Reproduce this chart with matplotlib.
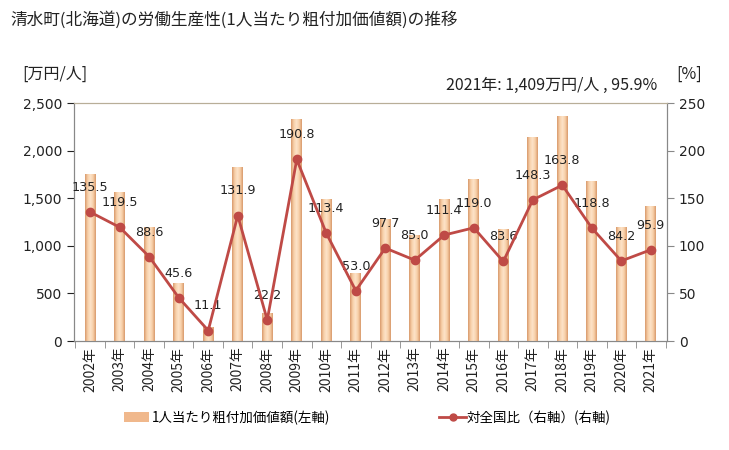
import numpy as np
import matplotlib

matplotlib.use("Agg")
import matplotlib.pyplot as plt
from matplotlib.colors import LinearSegmentedColormap
from matplotlib.patches import Patch
from matplotlib.lines import Line2D

plt.rcParams["font.family"] = ["Noto Sans CJK JP", "DejaVu Sans"]

years = [f"{y}年" for y in range(2002, 2022)]
# 1人当たり粗付加価値額 [万円/人]
value = [1744, 1555, 1187, 609, 147, 1817, 294, 2321, 1491, 714,
         1271, 1113, 1491, 1691, 1166, 2132, 2353, 1670, 1197, 1409]
# 対全国比 [%]
ratio = [135.5, 119.5, 88.6, 45.6, 11.1, 131.9, 22.2, 190.8, 113.4, 53.0,
         97.7, 85.0, 111.4, 119.0, 83.6, 148.3, 163.8, 118.8, 84.2, 95.9]

title = "清水町(北海道)の労働生産性(1人当たり粗付加価値額)の推移"
bar_label = "1人当たり粗付加価値額(左軸)"
line_label = "対全国比（右軸）(右軸)"

NUM = ["DejaVu Sans"]
TXT = "#222222"

fig = plt.figure(figsize=(7.29, 4.5), dpi=100)
ax = fig.add_axes([0.1015, 0.242, 0.8135, 0.529])
ax2 = ax.twinx()

x = np.arange(len(years))
bw = 0.36
bars = ax.bar(x, value, width=bw, color="#f5c39a", zorder=2)

# horizontal gradient on each bar (darker at edges)
cmap = LinearSegmentedColormap.from_list(
    "peach", ["#d99a6c", "#f7cfa8", "#fde3c8", "#f7cfa8", "#d99a6c"])
grad = np.linspace(0, 1, 64).reshape(1, -1)
for b in bars:
    x0, w, h = b.get_x(), b.get_width(), b.get_height()
    ax.imshow(grad, cmap=cmap, aspect="auto", zorder=3,
              extent=(x0, x0 + w, 0, h))

ax.set_xlim(-0.55, len(years) - 0.45)
ax.set_ylim(0, 2500)
ax.set_yticks(range(0, 2501, 500))
ax.set_yticklabels([f"{v:,}" for v in range(0, 2501, 500)], family=NUM)
ax.set_xticks(x)
ax.set_xticklabels(years, rotation=90)
ax.set_xticks(np.arange(-0.5, len(years), 1), minor=True)
ax.tick_params(axis="x", which="major", length=0, pad=4)
ax.tick_params(axis="x", which="minor", length=5, color="#888888")
ax.tick_params(axis="y", length=5, color="#888888")
ax.tick_params(labelsize=10, colors=TXT)

ax2.plot(x, ratio, color="#bf4a46", lw=2, marker="o", ms=6, zorder=5)
ax2.set_ylim(0, 250)
ax2.set_yticks(range(0, 251, 50))
ax2.set_yticklabels([str(v) for v in range(0, 251, 50)], family=NUM)
ax2.tick_params(length=5, color="#888888", labelsize=10, colors=TXT)
for xi, r in zip(x, ratio):
    ax2.annotate(f"{r:.1f}", (xi, r), xytext=(0, 13), textcoords="offset points",
                 ha="center", va="bottom", fontsize=9.2, color=TXT, family=NUM)

for a in (ax, ax2):
    for s in ("left", "right", "bottom"):
        a.spines[s].set_color("#888888")
    a.spines["top"].set_color("#b8ae98")
ax.set_zorder(ax2.get_zorder() - 1)
ax2.patch.set_visible(False)

fig.text(0.014, 0.955, title, fontsize=12, ha="left", va="center", color=TXT)
fig.text(0.031, 0.835, "[万円/人]", fontsize=11.5, ha="left", va="center", color=TXT)
fig.text(0.928, 0.835, "[%]", fontsize=11.5, ha="left", va="center", color=TXT)
fig.text(0.901, 0.81, "2021年: 1,409万円/人 , 95.9%", fontsize=11.5,
         ha="right", va="center", color=TXT)

# legend
h1 = Patch(facecolor="#f0b88c", edgecolor="none")
h2 = Line2D([], [], color="#bf4a46", lw=2, marker="o", ms=5)
fig.legend([h1], [bar_label], loc="center left", bbox_to_anchor=(0.154, 0.072),
           frameon=False, fontsize=9.7, handlelength=1.85, handletextpad=0.2)
fig.legend([h2], [line_label], loc="center left", bbox_to_anchor=(0.586, 0.072),
           frameon=False, fontsize=9.7, handlelength=2.0, handletextpad=0.05)

fig.savefig("out.png", dpi=100)
